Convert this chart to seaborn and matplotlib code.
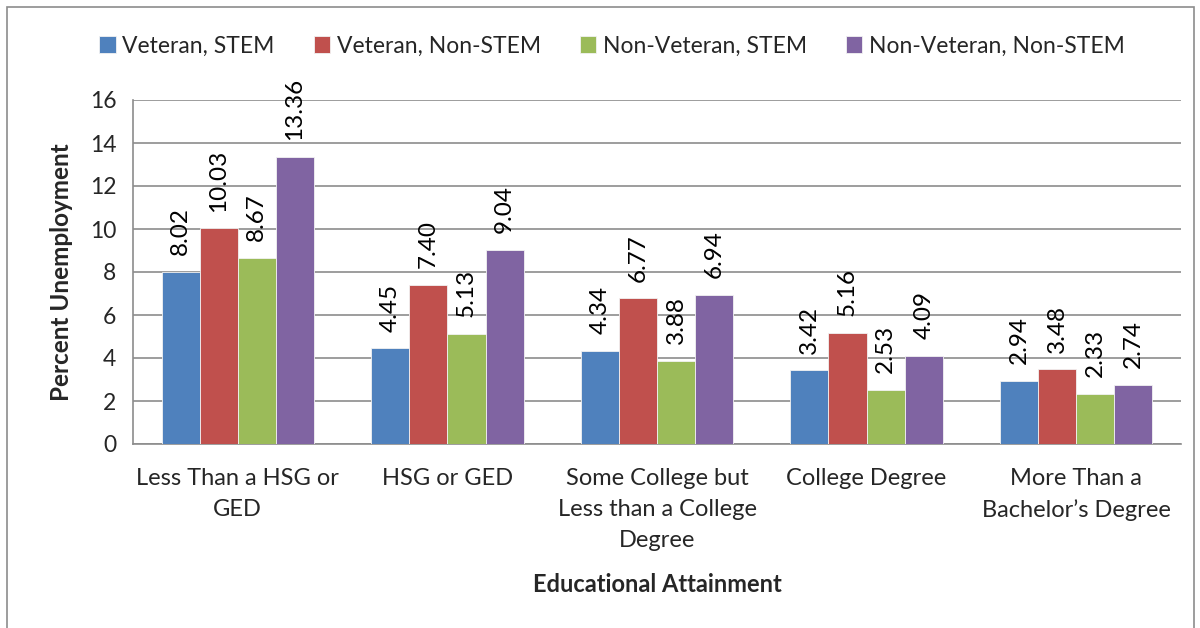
import pandas as pd
import numpy as np
import seaborn as sns
import matplotlib.pyplot as plt
from matplotlib.patches import Rectangle

categories = ['Less Than a HSG or\nGED', 'HSG or GED', 'Some College but\nLess than a College\nDegree',
              'College Degree', 'More Than a\nBachelor\u2019s Degree']
series = ['Veteran, STEM', 'Veteran, Non-STEM', 'Non-Veteran, STEM', 'Non-Veteran, Non-STEM']
vet_stem = [8.02, 4.45, 4.34, 3.42, 2.94]
vet_nonstem = [10.03, 7.40, 6.77, 5.16, 3.48]
nonvet_stem = [8.67, 5.13, 3.88, 2.53, 2.33]
nonvet_nonstem = [13.36, 9.04, 6.94, 4.09, 2.74]
colors = ['#4F81BD', '#C0504D', '#9BBB59', '#8064A2']

rows = []
for name, vals in zip(series, [vet_stem, vet_nonstem, nonvet_stem, nonvet_nonstem]):
    for cat, v in zip(categories, vals):
        rows.append({'cat': cat, 'series': name, 'value': v})
df = pd.DataFrame(rows)

sns.set_theme(style='white')
plt.rcParams['font.family'] = ['Lato', 'DejaVu Sans']

fig = plt.figure(figsize=(12, 6.28), dpi=100)
ax = fig.add_axes([133 / 1200, 1 - 444 / 628, (1181 - 133) / 1200, (444 - 100) / 628])

sns.barplot(data=df, x='cat', y='value', hue='series', palette=colors, width=4 / 5.5,
            gap=0, saturation=1, edgecolor='#f2f2f2', linewidth=0.6, ax=ax, zorder=3)

for cont in ax.containers:
    for bar in cont:
        h = bar.get_height()
        ax.annotate(f'{h:.2f}', (bar.get_x() + bar.get_width() / 2, h), xytext=(0, 12),
                    textcoords='offset points', rotation=90, ha='center', va='bottom',
                    fontsize=17.5, color='black')

ax.set_ylim(0, 16)
ax.set_yticks(range(0, 17, 2))
ax.set_xlim(-0.5, 4.5)
ax.yaxis.grid(True, color='#8c8c8c', linewidth=1.2, zorder=0)
ax.set_axisbelow(True)
for s in ['top', 'right']:
    ax.spines[s].set_visible(False)
for s in ['left', 'bottom']:
    ax.spines[s].set_color('#8c8c8c')
    ax.spines[s].set_linewidth(1.2)

ax.tick_params(axis='y', which='major', length=8, width=1.2, color='#8c8c8c', labelsize=16.5, pad=4)
ax.tick_params(axis='x', which='major', length=0, labelsize=17, pad=17)
ax.set_xticks(np.arange(-0.5, 4.6, 1), minor=True)
ax.tick_params(axis='x', which='minor', length=9, width=1.2, color='#8c8c8c', direction='out')
for lab in ax.get_xticklabels():
    lab.set_linespacing(1.6)

ax.set_xlabel('Educational Attainment', fontsize=17, fontweight='bold', labelpad=16)
ax.set_ylabel('Percent Unemployment', fontsize=17.5, fontweight='bold', labelpad=12)

ax.legend(loc='center', bbox_to_anchor=(612 / 1200, 1 - 46 / 628), bbox_transform=fig.transFigure,
          ncol=4, frameon=False, fontsize=16.5, handlelength=0.7, handleheight=0.7,
          handletextpad=0.3, columnspacing=1.7, title=None)

fig.add_artist(Rectangle((7 / 1200, -0.01), (1194 - 7) / 1200, 1.01 - 7 / 628, transform=fig.transFigure,
                         fill=False, edgecolor='#8c8c8c', linewidth=1.2))

fig.savefig('out.png', dpi=100)
